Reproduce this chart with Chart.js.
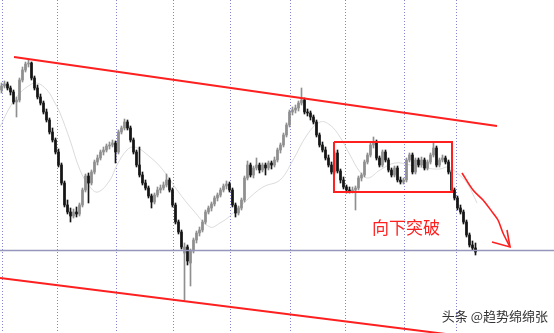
<!DOCTYPE html>
<html><head><meta charset="utf-8">
<style>html,body{margin:0;padding:0;background:#fff;}#wrap{width:554px;height:333px;position:relative;overflow:hidden;}</style>
<script src="https://cdn.jsdelivr.net/npm/chart.js@4"></script>
</head><body><div id="wrap"><canvas id="c" width="554" height="333"></canvas></div>
<script>
// Candle OHLC values (price points), one per bar
const opens=[243,247,249,245,241,231,233,253,263,269,
270,255,245,236,230,221,213,201,193,181,
168,150,128,121,117,121,119,128,143,157,
150,161,171,175,181,183,187,188,190,181,
201,205,211,205,193,181,168,158,150,145,
137,131,138,143,145,148,153,143,128,111,
101,80,86,70,82,93,100,103,111,121,
125,129,135,138,143,147,149,143,128,120,
125,133,155,168,158,165,168,163,168,165,
170,168,173,183,188,198,208,221,223,225,
230,233,221,220,216,211,198,188,183,175,
168,161,180,162,153,146,143,142,143,145,
155,158,171,178,188,191,175,168,181,173,
163,158,165,153,151,153,173,178,161,173,
168,173,165,171,178,185,168,173,175,171,
161,143,135,125,121,111,98,88,85];
const highs=[250,252,251,247,243,236,255,266,271,274,
271,257,248,239,232,224,215,205,195,184,
170,152,133,125,124,126,130,145,159,160,
163,173,178,183,186,189,191,193,192,203,
207,214,213,207,195,183,186,161,153,147,
139,140,146,148,151,159,155,145,130,113,
103,90,88,84,95,102,106,113,123,127,
131,137,140,145,149,152,151,145,130,127,
135,157,172,170,167,175,170,170,170,172,
172,176,185,190,200,210,223,226,228,232,
245,235,224,222,218,213,200,191,186,178,
171,182,183,164,156,148,146,146,147,157,
160,173,180,190,196,193,177,183,183,175,
165,167,167,156,155,175,180,180,175,175,
176,175,173,180,190,187,175,178,177,173,
163,145,137,128,123,113,100,92,90];
const lows=[240,245,243,238,229,216,231,251,261,266,
253,243,234,228,219,211,199,191,179,166,
148,126,119,111,115,116,117,126,141,130,
148,159,168,173,178,181,184,186,170,179,
199,203,203,191,179,166,156,148,143,135,
125,129,136,140,143,146,141,126,109,99,
84,33,68,47,80,90,97,101,109,119,
122,127,132,136,141,144,141,126,116,118,
123,131,153,156,155,163,160,161,158,163,
164,166,171,180,186,196,206,218,220,222,
228,219,217,213,209,196,186,181,173,166,
159,159,160,150,144,140,140,140,123,143,
152,156,169,176,185,173,166,166,171,161,
156,156,151,149,149,151,171,159,159,166,
166,163,163,169,176,166,166,171,169,159,
141,133,123,119,109,96,86,83,78];
const closes=[247,249,245,241,231,233,253,263,269,270,
255,245,236,230,221,213,201,193,181,168,
150,128,121,117,121,119,128,143,157,150,
161,171,175,181,183,187,188,190,181,201,
205,211,205,193,181,168,158,150,145,137,
131,138,143,145,148,153,143,128,111,101,
86,86,72,82,93,100,103,111,121,125,
129,135,138,143,147,149,143,128,120,125,
133,155,168,158,165,168,163,168,165,170,
168,173,183,188,198,208,221,223,225,230,
233,221,220,216,211,198,188,183,175,168,
161,180,162,153,146,143,142,143,145,155,
158,171,178,188,191,175,168,181,173,163,
158,165,153,151,153,173,178,161,173,168,
173,165,171,178,185,168,173,175,171,161,
143,135,125,121,111,98,88,85,81];

// Moving average line: [bar index, price]
const maLine=[[-0.5,206],[2.83,226],[6.17,240],[9.5,248],[11.83,250],[15.17,243],[17.83,230],[19.5,220],[22.83,193],[26.17,163],[29.5,146],[32.17,141],[36.17,153],[38.5,168],[41.83,183],[44.5,186],[49.5,176],[53.83,163],[58.5,143],[63.83,123],[69.5,106],[72.83,110],[76.17,117],[81.83,133],[87.17,146],[92.83,153],[97.17,173],[101.83,198],[106.17,211],[109.5,208],[112.83,196],[116.17,178],[119.5,161],[122.17,155],[126.17,163],[131.17,170],[136.17,168],[141.17,165],[146.17,164],[148.83,166],[151.83,160],[155.17,150],[158.5,130]];

// Drawn objects
const gridTicks=[0.17,18.5,38.17,57.17,76.17,96.17,114.5,134.17,151.5];
const upperTrend=[[4.17,276],[165.17,207]];
const lowerTrend=[[-0.5,55],[184.17,-14.6]];
const supportLevel=82.5;
const boxX=[110.83,150.17];
const boxY=[141,191];
const arrowCurve=[[153.5,160],[157.17,143],[160.5,133],[163.83,120],[165.5,113],[167.17,100],[169.5,86]];
const arrowHead=[[163.5,91],[169.5,86],[168.5,103]];
const annotationText='向下突破';
const annotationPos=[123.5,105];
const watermark='头条 @趋势绵绵张';

const xMin=-0.5, xMax=184.17, yMin=0, yMax=333;
const RED='#ff1f1f';
const BULL='#8f8f8f', BEAR='#151515';

const idx=closes.map((_,i)=>i);
const candleColor=idx.map(i=>closes[i]>=opens[i]?BULL:BEAR);
const wickData=idx.map(i=>({x:i,y:[lows[i],highs[i]]}));
const bodyData=idx.map(i=>({x:i,y:[Math.min(opens[i],closes[i]),Math.max(opens[i],closes[i])]}));
const pts=a=>a.map(p=>({x:p[0],y:p[1]}));
const boxPts=[{x:boxX[0],y:boxY[1]},{x:boxX[1],y:boxY[1]},{x:boxX[1],y:boxY[0]},{x:boxX[0],y:boxY[0]},{x:boxX[0],y:boxY[1]}];

const lineDs=(data,color,width,order,extra)=>Object.assign({type:'line',data,borderColor:color,borderWidth:width,pointRadius:0,fill:false,tension:0,order},extra||{});

const gridPlugin={id:'vgrid',beforeDatasetsDraw(chart){
  const ctx=chart.ctx, xs=chart.scales.x, a=chart.chartArea;
  ctx.save();
  ctx.strokeStyle='rgba(110,110,200,0.85)';
  ctx.lineWidth=1;
  ctx.setLineDash([1,2]);
  gridTicks.forEach(t=>{
    const px=Math.round(xs.getPixelForValue(t))+0.5;
    ctx.beginPath();ctx.moveTo(px,a.top);ctx.lineTo(px,a.bottom);ctx.stroke();
  });
  ctx.restore();
}};

const textPlugin={id:'txt',afterDatasetsDraw(chart){
  const ctx=chart.ctx, xs=chart.scales.x, ys=chart.scales.y;
  ctx.save();
  ctx.fillStyle=RED;
  ctx.font='17px "Noto Sans CJK SC"';
  ctx.textBaseline='middle';
  ctx.textAlign='left';
  ctx.fillText(annotationText,xs.getPixelForValue(annotationPos[0]),ys.getPixelForValue(annotationPos[1]));
  ctx.font='13px "Noto Sans CJK SC"';
  ctx.textAlign='right';
  ctx.fillStyle='rgba(255,255,255,0.9)';
  ctx.fillText(watermark,549,317);
  ctx.fillStyle='#333333';
  ctx.fillText(watermark,548,316);
  ctx.restore();
}};

new Chart(document.getElementById('c'),{
  type:'bar',
  data:{datasets:[
    lineDs(pts(upperTrend),RED,2,0),
    lineDs(pts(lowerTrend),RED,2,0),
    lineDs(boxPts,RED,2,0,{borderJoinStyle:'miter'}),
    lineDs(pts(arrowCurve),RED,1.6,0,{tension:0.3}),
    lineDs(pts(arrowHead),RED,1.6,0),
    lineDs([{x:xMin,y:supportLevel},{x:xMax,y:supportLevel}],'rgb(150,150,188)',1.5,1),
    {type:'bar',data:bodyData,backgroundColor:candleColor,borderWidth:0,barThickness:2,grouped:false,minBarLength:1,order:3},
    {type:'bar',data:wickData,backgroundColor:candleColor,borderWidth:0,barThickness:1,grouped:false,order:4},
    lineDs(pts(maLine),'rgba(215,215,215,0.9)',1,5,{tension:0.4})
  ]},
  options:{
    responsive:false,animation:false,devicePixelRatio:1,
    layout:{padding:0},
    plugins:{legend:{display:false},tooltip:{enabled:false},title:{display:false}},
    scales:{
      x:{type:'linear',min:xMin,max:xMax,offset:false,display:false},
      y:{type:'linear',min:yMin,max:yMax,display:false}
    }
  },
  plugins:[gridPlugin,textPlugin]
});
</script></body></html>
